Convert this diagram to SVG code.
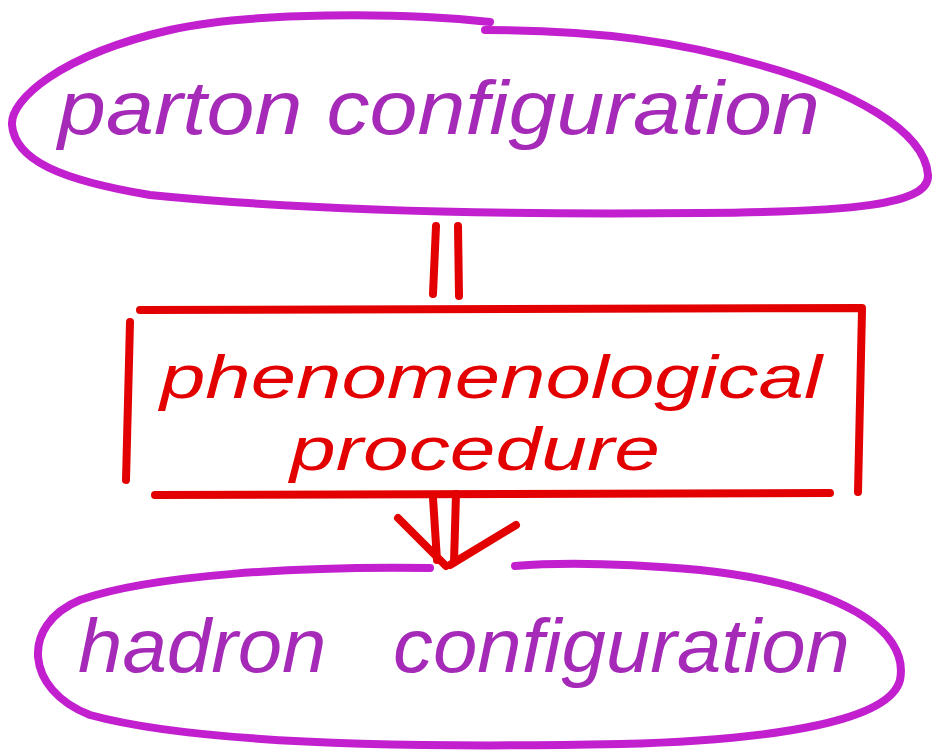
<svg xmlns="http://www.w3.org/2000/svg" width="934" height="753" viewBox="0 0 934 753">
<style>
.purple{fill:none;stroke:#c21fcf;stroke-width:8;stroke-linecap:round;stroke-linejoin:round}
.red{fill:none;stroke:#e20000;stroke-width:8;stroke-linecap:round;stroke-linejoin:round}
.ptxt{font-family:"Liberation Sans",Arial,sans-serif;font-style:italic;fill:#a52ab8;font-size:76px;white-space:pre}
.rtxt{font-family:"Liberation Sans",Arial,sans-serif;font-style:italic;fill:#e20000;font-size:62px}
</style>
<rect width="934" height="753" fill="#ffffff"/>
<g id="parton">
<path class="purple" d="M490,22 C400,12 250,12 170,30 C60,55 10,100 12,125 C15,160 60,180 150,195 C300,210 500,215 700,213 C850,212 930,205 928,175 C925,130 850,90 760,65 C680,42 600,30 485,30"/>
<text class="ptxt" x="58" y="134" textLength="762" lengthAdjust="spacingAndGlyphs">parton configuration</text>
</g>
<g id="procedure">
<path class="red" d="M140,310 L862,308 M130,322 L126,480 M862,310 L858,492 M155,495 L830,493"/>
<text class="rtxt" x="160" y="398" textLength="662" lengthAdjust="spacingAndGlyphs">phenomenological</text>
<text class="rtxt" x="290" y="470" textLength="370" lengthAdjust="spacingAndGlyphs">procedure</text>
</g>
<g id="hadron">
<path class="purple" d="M430,568 C300,566 150,575 80,600 C20,625 25,690 90,715 C200,745 420,748 620,744 C780,740 890,720 900,680 C910,630 840,585 700,570 C620,563 560,562 515,566"/>
<text class="ptxt" x="78" y="672" textLength="772" lengthAdjust="spacingAndGlyphs">hadron   configuration</text>
</g>
<g id="connectors">
<path class="red" d="M436,226 L433,294 M458,226 L459,296"/>
<path class="red" d="M433,498 L437,560 M456,494 L454,562 M398,518 L446,566 M516,525 L450,565"/>
</g>
</svg>
